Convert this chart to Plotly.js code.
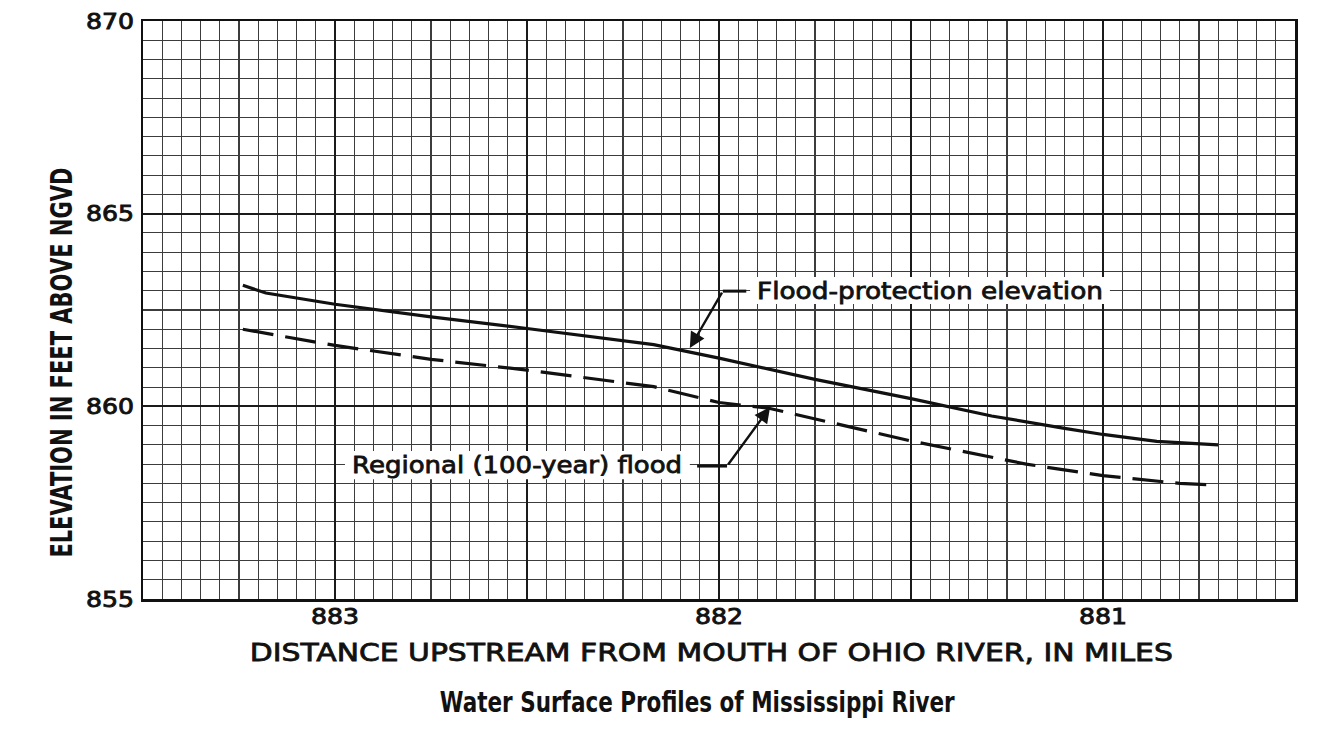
<!DOCTYPE html>
<html>
<head>
<meta charset="utf-8">
<script src="https://cdn.plot.ly/plotly-3.0.1.min.js"></script>
<style>
  html, body { margin: 0; padding: 0; background: #fff; }
  #chart { width: 1341px; height: 741px; }
</style>
</head>
<body>
<div id="chart"></div>
<script>
// ---- Data ----
const protectionMiles = [883.24, 883.18, 883.0, 882.75, 882.5, 882.17, 882.0, 881.75, 881.5, 881.29, 881.1, 881.0, 880.86, 880.70];
const protectionElev  = [863.14, 862.94, 862.65, 862.32, 862.02, 861.6, 861.25, 860.7, 860.2, 859.75, 859.43, 859.27, 859.09, 859.0];

const floodMiles = [883.24, 883.0, 882.75, 882.5, 882.17, 882.0, 881.87, 881.5, 881.2, 881.0, 880.8, 880.71];
const floodElev  = [862.0, 861.58, 861.22, 860.94, 860.51, 860.1, 859.95, 859.1, 858.5, 858.2, 858.0, 857.96];

const xTickVals = [883.5, 883, 882.5, 882, 881.5, 881, 880.5];
const xTickText = ['', '883', '', '882', '', '881', ''];
const yTickVals = [855, 860, 865, 870];
const yTickText = ['855', '860', '865', '870'];

const protectionLabel = 'Flood-protection elevation';
const floodLabel = 'Regional (100-year) flood';
const xTitle = 'DISTANCE UPSTREAM FROM MOUTH OF OHIO RIVER, IN MILES';
const yTitle = 'ELEVATION IN FEET ABOVE NGVD';
const chartTitle = 'Water Surface Profiles of Mississippi River';

const INK = '#111111';
const WIDE = '"DejaVu Sans", "Liberation Sans", sans-serif';

const traces = [
  {
    x: protectionMiles, y: protectionElev, type: 'scatter', mode: 'lines',
    line: { color: INK, width: 3.2 }, name: protectionLabel, hoverinfo: 'skip'
  },
  {
    x: floodMiles, y: floodElev, type: 'scatter', mode: 'lines',
    line: { color: INK, width: 3.2, dash: '31px,12px' }, name: floodLabel, hoverinfo: 'skip'
  }
];

const layout = {
  width: 1341, height: 741,
  margin: { l: 143, r: 46, t: 21, b: 142 },
  paper_bgcolor: '#ffffff', plot_bgcolor: '#ffffff',
  showlegend: false,
  xaxis: {
    range: [883.5, 880.5],
    tickmode: 'array', tickvals: xTickVals, ticktext: xTickText,
    showgrid: true, gridcolor: '#1a1a1a', gridwidth: 1.7,
    minor: { tickmode: 'linear', tick0: 880.5, dtick: 0.05, showgrid: true, gridcolor: '#3c3c3c', gridwidth: 1.1, ticks: '' },
    showline: true, linecolor: INK, linewidth: 2.5, mirror: true,
    ticks: '', zeroline: false,
    tickfont: { family: WIDE, size: 22, color: INK },
    ticklabelstandoff: -4
  },
  yaxis: {
    range: [855, 870],
    tickmode: 'array', tickvals: yTickVals, ticktext: yTickText,
    showgrid: true, gridcolor: '#1a1a1a', gridwidth: 1.7,
    minor: { tickmode: 'linear', tick0: 855, dtick: 0.5, showgrid: true, gridcolor: '#3c3c3c', gridwidth: 1.1, ticks: '' },
    showline: true, linecolor: INK, linewidth: 2.5, mirror: true,
    ticks: '', zeroline: false,
    tickfont: { family: WIDE, size: 22, color: INK },
    ticklabelstandoff: 2
  },
  shapes: [
    // white label boxes over the grid
    { type: 'rect', xref: 'x', yref: 'y', x0: 881.919, x1: 880.982, y0: 862.655, y1: 863.356,
      fillcolor: '#fff', line: { width: 0 }, layer: 'between' },
    { type: 'rect', xref: 'x', yref: 'y', x0: 882.974, x1: 882.076, y0: 858.11, y1: 858.84,
      fillcolor: '#fff', line: { width: 0 }, layer: 'between' },
    // leader stubs
    { type: 'line', xref: 'x', yref: 'y', x0: 881.990, x1: 881.929, y0: 862.99, y1: 862.99,
      line: { color: INK, width: 3 }, layer: 'above' },
    { type: 'line', xref: 'x', yref: 'y', x0: 882.057, x1: 881.979, y0: 858.45, y1: 858.45,
      line: { color: INK, width: 3 }, layer: 'above' }
  ],
  annotations: [
    { x: 882.076, y: 861.513, ax: 881.990, ay: 862.99, axref: 'x', ayref: 'y', xref: 'x', yref: 'y',
      text: '', showarrow: true, arrowhead: 2, arrowsize: 1.3, arrowwidth: 2.4, arrowcolor: INK, standoff: 0 },
    { x: 881.867, y: 859.98, ax: 881.979, ay: 858.45, axref: 'x', ayref: 'y', xref: 'x', yref: 'y',
      text: '', showarrow: true, arrowhead: 2, arrowsize: 1.3, arrowwidth: 2.4, arrowcolor: INK, standoff: 0 },
    { x: 881.451, y: 863.0, xref: 'x', yref: 'y', text: protectionLabel, showarrow: false,
      font: { family: WIDE, size: 23, color: INK }, xanchor: 'center', yanchor: 'middle' },
    { x: 882.526, y: 858.48, xref: 'x', yref: 'y', text: floodLabel, showarrow: false,
      font: { family: WIDE, size: 23, color: INK }, xanchor: 'center', yanchor: 'middle' },
    { x: 0.4935, y: -0.0917, xref: 'paper', yref: 'paper', text: xTitle, showarrow: false,
      font: { family: WIDE, size: 25, color: INK }, xanchor: 'center', yanchor: 'middle' },
    { x: 0.4813, y: -0.1782, xref: 'paper', yref: 'paper', text: '<b>' + chartTitle + '</b>', showarrow: false,
      font: { family: WIDE, size: 29, color: INK }, xanchor: 'center', yanchor: 'middle' },
    { x: -0.0712, y: 0.41, xref: 'paper', yref: 'paper', text: '<b>' + yTitle + '</b>', showarrow: false,
      textangle: -90, font: { family: WIDE, size: 30, color: INK }, xanchor: 'center', yanchor: 'middle' }
  ]
};

const textWidths = {};
textWidths[protectionLabel] = 346;
textWidths[floodLabel] = 330;
textWidths[xTitle] = 923;
textWidths[chartTitle] = 515;
textWidths[yTitle] = 390;

// texts printed in a medium weight in the original
const mediumTexts = [protectionLabel, floodLabel, xTitle];

function fitTexts() {
  document.querySelectorAll('#chart text').forEach(function (el) {
    const t = el.textContent;
    let len = textWidths[t];
    const isTick = /^\d{3}$/.test(t);
    if (!len && isTick) len = 48;
    if (len) {
      el.setAttribute('textLength', len);
      el.setAttribute('lengthAdjust', 'spacingAndGlyphs');
    }
    if (isTick || mediumTexts.indexOf(t) >= 0) {
      el.style.stroke = INK;
      el.style.strokeWidth = isTick ? '0.9px' : '0.8px';
      el.style.paintOrder = 'stroke';
    }
  });
}

Plotly.newPlot('chart', traces, layout, { staticPlot: true, displayModeBar: false }).then(fitTexts);
</script>
</body>
</html>
